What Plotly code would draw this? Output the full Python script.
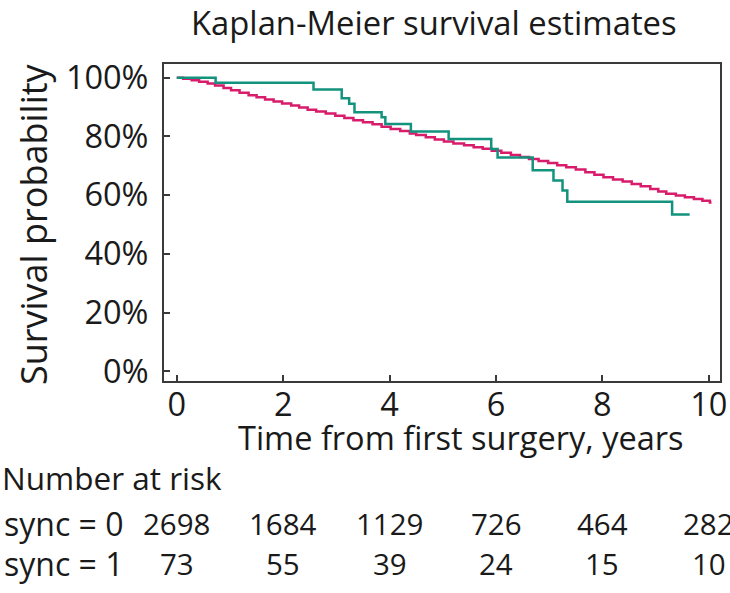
import plotly.graph_objects as go

# ---- data ----
title_text = "Kaplan-Meier survival estimates"
x_title = "Time from first surgery, years"
y_title = "Survival probability"

# sync = 0 (magenta) step times (years) and survival (%)
t_sync0 = [0.00, 0.12, 0.28, 0.42, 0.58, 0.72, 0.88, 1.02, 1.18, 1.35, 1.50, 1.66,
           1.82, 1.98, 2.15, 2.30, 2.46, 2.62, 2.80, 2.98, 3.15, 3.32, 3.50, 3.68,
           3.85, 4.02, 4.20, 4.38, 4.50, 4.68, 4.85, 5.02, 5.20, 5.40, 5.58, 5.75,
           5.92, 6.10, 6.28, 6.45, 6.62, 6.80, 6.98, 7.15, 7.32, 7.50, 7.68, 7.85,
           8.02, 8.20, 8.38, 8.55, 8.72, 8.90, 9.05, 9.20, 9.38, 9.55, 9.72, 9.88,
           10.02]
s_sync0 = [100.0, 99.6, 99.1, 98.6, 98.0, 97.3, 96.5, 95.7, 94.9, 94.0, 93.3, 92.6,
           91.9, 91.2, 90.5, 89.8, 89.1, 88.5, 87.8, 87.0, 86.3, 85.5, 84.8, 84.1,
           83.3, 82.5, 81.8, 81.0, 80.5, 79.7, 78.9, 78.3, 77.6, 77.0, 76.3, 75.8,
           75.1, 74.4, 73.7, 73.0, 72.3, 71.6, 70.9, 70.2, 69.5, 68.7, 67.8, 66.9,
           66.1, 65.3, 64.6, 63.8, 63.0, 62.1, 61.2, 60.5, 59.9, 59.3, 58.7, 58.1,
           57.5]
end_sync0 = 10.05

# sync = 1 (green)
t_sync1 = [0.00, 0.73, 2.57, 3.10, 3.24, 3.34, 3.85, 3.92, 4.40, 5.11, 5.91, 6.03,
           6.69, 7.08, 7.25, 7.34, 9.31]
s_sync1 = [100.0, 98.3, 96.0, 93.0, 91.1, 88.2, 86.5, 84.2, 81.7, 79.1, 75.7, 72.8,
           68.5, 65.0, 61.6, 57.7, 53.4]
end_sync1 = 9.64

x_ticks = [0, 2, 4, 6, 8, 10]
y_ticks = [0, 20, 40, 60, 80, 100]
y_tick_labels = ["0%", "20%", "40%", "60%", "80%", "100%"]

risk_times = [0, 2, 4, 6, 8, 10]
risk_label = "Number at risk"
group_labels = ["sync = 0", "sync = 1"]
risk_sync0 = [2698, 1684, 1129, 726, 464, 282]
risk_sync1 = [73, 55, 39, 24, 15, 10]

# ---- styling ----
FONT = "Open Sans"
TXT = "#1a1a1a"
AX = "#3a3a3a"
C0 = "#d81b6a"
C1 = "#13937e"

W, H = 730, 593
L, R, T, B = 164, 720, 64, 381
pw, ph = R - L, B - T


def px_x(px):
    return (px - L) / pw


def px_y(py):
    return (B - py) / ph


fig = go.Figure()
fig.add_trace(go.Scatter(
    x=t_sync0 + [end_sync0], y=s_sync0 + [s_sync0[-1]],
    mode="lines", line=dict(color=C0, width=2.5, shape="hv"),
    name="sync = 0", showlegend=False, hoverinfo="skip"))
fig.add_trace(go.Scatter(
    x=t_sync1 + [end_sync1], y=s_sync1 + [s_sync1[-1]],
    mode="lines", line=dict(color=C1, width=2.5, shape="hv"),
    name="sync = 1", showlegend=False, hoverinfo="skip"))

annotations = []
annotations.append(dict(text=title_text, x=px_x(434), y=px_y(23), xref="paper", yref="paper",
                        xanchor="center", yanchor="middle", showarrow=False,
                        font=dict(family=FONT, size=32.8, color=TXT)))
annotations.append(dict(text=x_title, x=px_x(461), y=px_y(437), xref="paper", yref="paper",
                        xanchor="center", yanchor="middle", showarrow=False,
                        font=dict(family=FONT, size=32.5, color=TXT)))
annotations.append(dict(text=y_title, x=px_x(33), y=px_y(224), xref="paper", yref="paper",
                        xanchor="center", yanchor="middle", showarrow=False, textangle=-90,
                        font=dict(family=FONT, size=36, color=TXT)))
annotations.append(dict(text=risk_label, x=px_x(0), y=px_y(478), xref="paper", yref="paper",
                        xanchor="left", yanchor="middle", showarrow=False,
                        font=dict(family=FONT, size=31.5, color=TXT)))
row_y = [523, 563]
for lab, py in zip(group_labels, row_y):
    annotations.append(dict(text=lab, x=px_x(2), y=px_y(py), xref="paper", yref="paper",
                            xanchor="left", yanchor="middle", showarrow=False,
                            font=dict(family=FONT, size=32, color=TXT)))
for vals, py in zip([risk_sync0, risk_sync1], row_y):
    for t, v in zip(risk_times, vals):
        annotations.append(dict(text=str(v), x=t, y=px_y(py), xref="x", yref="paper",
                                xanchor="center", yanchor="middle", showarrow=False,
                                font=dict(family=FONT, size=29.5, color=TXT)))

fig.update_layout(
    width=W, height=H,
    margin=dict(l=L, r=W - R, t=T, b=H - B, pad=0, autoexpand=False),
    paper_bgcolor="white", plot_bgcolor="white",
    annotations=annotations,
    xaxis=dict(range=[-0.24, 10.21], tickvals=x_ticks, ticks="inside", ticklen=6,
               tickwidth=2, tickcolor=AX, showline=True, mirror=True, linecolor=AX,
               linewidth=2, showgrid=False, zeroline=False, automargin=False,
               ticklabelstandoff=-6,
               tickfont=dict(family=FONT, size=32.5, color=TXT)),
    yaxis=dict(range=[-3.33, 104.66], tickvals=y_ticks, ticktext=y_tick_labels,
               ticks="inside", ticklen=6, tickwidth=2, tickcolor=AX, showline=True,
               mirror=True, linecolor=AX, linewidth=2, showgrid=False, zeroline=False,
               automargin=False, ticklabelstandoff=7,
               tickfont=dict(family=FONT, size=32.5, color=TXT)),
)

# remove the default 8px page margin so the 730x593 figure fills the window
fig.write_html("out.html",
               config={"displayModeBar": False, "staticPlot": True},
               post_script="document.body.style.margin='0';document.body.style.overflow='hidden';")
